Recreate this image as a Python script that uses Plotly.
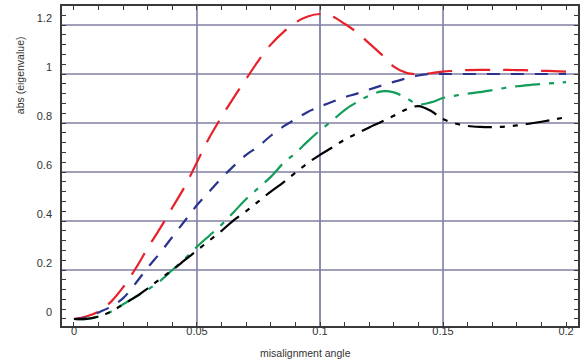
import plotly.graph_objects as go

# ---------------- data ----------------
angle = [0.0, 0.005, 0.01, 0.015, 0.02, 0.025, 0.03, 0.035, 0.04, 0.045,
         0.05, 0.055, 0.06, 0.065, 0.07, 0.075, 0.08, 0.085, 0.09, 0.095,
         0.1, 0.105, 0.11, 0.115, 0.12, 0.125, 0.13, 0.135, 0.14, 0.145,
         0.15, 0.155, 0.16, 0.165, 0.17, 0.175, 0.18, 0.185, 0.19, 0.195, 0.2]

red_vals = [0.0, 0.01, 0.03, 0.07, 0.13, 0.205, 0.29, 0.37, 0.455, 0.54,
            0.64, 0.74, 0.825, 0.905, 0.98, 1.055, 1.12, 1.17, 1.21, 1.235,
            1.245, 1.235, 1.205, 1.17, 1.125, 1.08, 1.03, 1.005, 0.999, 1.003,
            1.01, 1.013, 1.016, 1.017, 1.017, 1.017, 1.016, 1.015, 1.013, 1.012, 1.01]

blue_vals = [0.0, 0.005, 0.027, 0.05, 0.085, 0.145, 0.21, 0.27, 0.335, 0.40,
             0.465, 0.52, 0.575, 0.625, 0.67, 0.705, 0.748, 0.785, 0.815, 0.845,
             0.867, 0.887, 0.905, 0.92, 0.937, 0.953, 0.968, 0.982, 0.994, 1.0,
             1.0, 1.0, 1.0, 1.0, 1.0, 1.0, 1.0, 1.0, 1.0, 1.0, 1.0]

green_vals = [0.0, 0.0, 0.01, 0.03, 0.06, 0.09, 0.12, 0.155, 0.20, 0.245,
              0.295, 0.34, 0.385, 0.437, 0.49, 0.535, 0.58, 0.635, 0.677, 0.725,
              0.77, 0.81, 0.853, 0.885, 0.912, 0.929, 0.925, 0.902, 0.876, 0.884,
              0.902, 0.912, 0.92, 0.926, 0.934, 0.943, 0.95, 0.955, 0.959, 0.963, 0.967]

black_vals = [0.0, 0.0, 0.01, 0.03, 0.06, 0.09, 0.125, 0.163, 0.20, 0.24,
              0.28, 0.32, 0.36, 0.404, 0.44, 0.48, 0.52, 0.557, 0.597, 0.636,
              0.67, 0.70, 0.732, 0.757, 0.782, 0.805, 0.83, 0.855, 0.869, 0.85,
              0.816, 0.798, 0.788, 0.784, 0.783, 0.785, 0.79, 0.797, 0.805, 0.814, 0.824]

x_ticks = [0, 0.05, 0.1, 0.15, 0.2]
x_tick_labels = ["0", "0.05", "0.1", "0.15", "0.2"]
y_ticks = [0, 0.2, 0.4, 0.6, 0.8, 1.0, 1.2]
y_tick_labels = ["0", "0.2", "0.4", "0.6", "0.8", "1", "1.2"]
x_grid = [0.05, 0.15]
x_grid_dark = [0.1]
y_grid = [0.2, 0.4, 0.6, 0.8, 1.0, 1.2]

x_title = "misalignment angle"
y_title = "abs (eigenvalue)"

# ---------------- figure ----------------
series = [
    (red_vals, "#e8202a", "25px,13px"),
    (blue_vals, "#2b338f", "13px,11px"),
    (green_vals, "#0f9d58", "25px,9px,5px,9px"),
    (black_vals, "#000000", "24px,8px,5px,8px,5px,8px"),
]

fig = go.Figure()
for vals, col, dash in series:
    fig.add_trace(go.Scatter(x=angle, y=vals, mode="lines",
                             line=dict(color=col, width=2.2, dash=dash, shape="spline"),
                             showlegend=False, hoverinfo="skip"))

shapes = []
for gx in x_grid:
    shapes.append(dict(type="line", xref="x", yref="paper", x0=gx, x1=gx, y0=0, y1=1,
                       line=dict(color="#7f7fa3", width=1.6), layer="below"))
for gx in x_grid_dark:
    shapes.append(dict(type="line", xref="x", yref="paper", x0=gx, x1=gx, y0=0, y1=1,
                       line=dict(color="#2e2e6e", width=1.1), layer="below"))
for gy in y_grid:
    shapes.append(dict(type="line", xref="paper", yref="y", x0=0, x1=1, y0=gy, y1=gy,
                       line=dict(color="#7f7fa3", width=1.6), layer="below"))

tickfont = dict(family="Liberation Sans, Arial, sans-serif", size=11, color="#333333")

fig.update_layout(
    width=583, height=364,
    margin=dict(l=62, r=3, t=6, b=38),
    paper_bgcolor="white", plot_bgcolor="white",
    shapes=shapes,
    xaxis=dict(range=[-0.00486, 0.20486], tickmode="array", tickvals=x_ticks, ticktext=x_tick_labels,
               showgrid=False, zeroline=False, showline=True, linecolor="#3a3a3a",
               linewidth=1.6, mirror="ticks", ticks="inside", ticklen=4,
               tickcolor="#3a3a3a", tickwidth=1, tickfont=tickfont,
               ticklabelstandoff=-6,
               minor=dict(tickmode="linear", dtick=0.01, tick0=0, ticks="inside", ticklen=4,
                          tickcolor="#3a3a3a", tickwidth=1, showgrid=False)),
    yaxis=dict(range=[-0.0286, 1.2776], tickmode="array", tickvals=y_ticks, ticktext=y_tick_labels,
               showgrid=False, zeroline=False, showline=True, linecolor="#3a3a3a",
               linewidth=1.6, mirror="ticks", ticks="inside", ticklen=4,
               tickcolor="#3a3a3a", tickwidth=1, tickfont=tickfont,
               ticklabelshift=-7, ticklabelstandoff=6,
               minor=dict(tickmode="linear", dtick=0.04, tick0=0, ticks="inside", ticklen=4,
                          tickcolor="#3a3a3a", tickwidth=1, showgrid=False)),
    annotations=[
        dict(text=x_title, xref="paper", yref="paper", x=(306 - 62) / 518, y=-(353 - 326) / 320,
             showarrow=False, xanchor="center", yanchor="middle",
             font=dict(family="Liberation Sans, Arial, sans-serif", size=10.5, color="#333333")),
        dict(text=y_title, xref="paper", yref="paper", x=-(62 - 20) / 518, y=(326 - 75) / 320,
             showarrow=False, xanchor="center", yanchor="middle", textangle=-90,
             font=dict(family="Liberation Sans, Arial, sans-serif", size=10.5, color="#333333")),
    ],
)

fig.write_html("out.html")
